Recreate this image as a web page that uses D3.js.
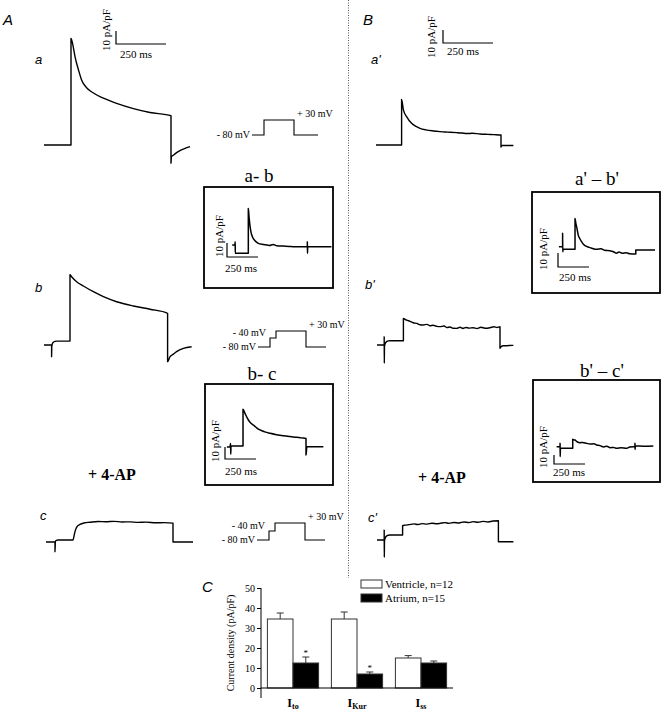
<!DOCTYPE html>
<html>
<head>
<meta charset="utf-8">
<script src="https://cdn.jsdelivr.net/npm/d3@7"></script>
<style>
  body { margin: 0; background: #fff; }
  svg { display: block; }
  text { font-family: "Liberation Serif", "Times New Roman", serif; fill: #000; }
  .lbl { font-family: "Liberation Sans", Arial, sans-serif; font-style: italic; }
</style>
</head>
<body>
<svg id="fig" width="662" height="711"></svg>
<script>
// current traces, [time (ms), current (pA/pF)]
const traceA = [[0,0],[135,0],[135,82],[143,78],[155,68],[172,58],[188,50],[213,44],[247,40],[297,36],[363,32],[447,28],[530,25],[635,22.5],[635,-14],[637,-9],[650,-7.5],[663,-5.9],[680,-4.3],[697,-3.1],[730,-1.3]];
const traceB = [[0,0],[38,0],[38,-9],[39,-1],[42,1],[47,2.2],[55,2.8],[65,3],[130,3],[130,54],[138,52.5],[163,48.7],[197,45.4],[247,41],[297,37.2],[363,33.3],[447,30],[530,27.5],[618,24.4],[618,-12.8],[630,-9],[647,-7],[663,-5.1],[697,-2.6],[738,-1.3]];
const traceC = [[10,0],[55,0],[55,-7.5],[57,0.5],[62,1.3],[70,1.5],[145,1.5],[148,3],[152,6],[158,9.5],[166,12],[180,13.5],[200,14.6],[230,15.2],[270,15.8],[310,15.6],[350,15.9],[390,15.4],[430,15.5],[470,15.1],[510,15.3],[560,14.8],[600,14.9],[645,14.5],[645,0],[745,0]];
const traceA2 = [[0,0],[128,0],[128,35],[137,27],[153,21.8],[178,16.7],[200,14.3],[220,12.8],[250,11.6],[287,10.8],[320,10.3],[345,10.0],[370,9.8],[403,9.5],[430,9.2],[455,8.8],[480,9.0],[520,8.5],[560,8.2],[590,8.0],[625,7.7],[625,-1.5],[628,-0.4],[687,-0.4]];
const traceB2 = [[0,0],[36,0],[36,6.4],[36.5,-14],[37.5,-1],[42,1.5],[48,2.6],[57,3.2],[65,3.3],[132,3.3],[132,20.5],[140,19.8],[148,19.2],[165,18.2],[181,17.1],[200,16.6],[215,15.6],[231,15.4],[250,15.9],[265,14.8],[280,15.2],[300,14.3],[315,14.1],[335,14.6],[350,13.4],[365,13.9],[380,12.9],[398,12.8],[415,13.6],[430,12.7],[445,13.5],[460,13.0],[481,13.3],[500,12.6],[520,13.6],[540,12.9],[565,13.3],[585,14.0],[600,13.5],[615,14.1],[615,-2.5],[622,-1],[632,-0.6],[682,-0.3]];
const traceC2 = [[0,0],[36,0],[36,7.7],[36.5,-13.3],[37.5,-1],[42,1.8],[48,3.1],[57,3.7],[65,3.8],[128,3.8],[128,11],[140,11.4],[160,11.8],[185,12.4],[205,11.9],[225,12.6],[250,12.2],[275,12.9],[300,12.5],[315,12.8],[340,13.4],[360,12.8],[385,13.5],[410,13.1],[435,13.9],[460,13.4],[481,14.1],[505,13.6],[530,14.3],[555,13.9],[580,14.6],[607,14.8],[607,-1.3],[682,-1.3]];

// difference currents shown in the boxes
const diffAB = [[0,0],[22,0],[24,2.4],[25,-5.9],[30,-5.9],[130,-5.9],[130,26],[136,20],[143,14],[152,9],[165,5.5],[184,3],[210,1.2],[250,0.3],[300,-0.3],[330,0.4],[360,-0.5],[412,-0.8],[460,-1],[500,-1.3],[547,-1.2],[606,-1.2],[606,2.4],[607,-5.9],[609,-1.2],[800,-1.2]];
const diffBC = [[0,0],[25,0],[30,3],[31,-6],[33,0.5],[40,0.8],[130,0.8],[130,31.4],[146,28],[160,25],[173,22.5],[190,20.3],[213,18.3],[240,16],[267,14.2],[305,12.6],[348,11.4],[400,10.3],[455,9.4],[510,8.7],[563,8.1],[600,7.6],[638,7.2],[638,-6.7],[645,0.3],[778,0.3]];
const diffAB2 = [[0,0],[30,0],[30,9.6],[31,-3.6],[34,-1.9],[130,-1.9],[130,20.2],[136,17],[143,14.3],[156,8.3],[170,5.5],[183,3.6],[200,1.5],[223,0.2],[260,-0.9],[304,-1.9],[340,-1.5],[370,-2.6],[411,-2.9],[440,-3.6],[464,-4.7],[485,-3.8],[510,-4.6],[544,-4.3],[570,-5],[620,-5.2],[620,-2.4],[775,-2.4]];
const diffBC2 = [[0,0],[28,0],[28,3.7],[29,-11],[31,-1.8],[130,-1.8],[130,8.2],[139,7.6],[148,7.4],[165,5.5],[188,4.4],[210,4.8],[243,3.7],[270,2.9],[300,3.3],[323,1.9],[350,1.2],[380,-0.2],[405,0.6],[431,-1.1],[460,-0.8],[484,-1.8],[520,-1.2],[565,-1.8],[590,-0.4],[619,0],[632,0],[632,3.7],[633,-3],[635,0.8],[700,0.6],[780,0.8]];

// voltage protocols, [time (ms), mV]
const protocolStep = [[0,-80],[200,-80],[200,30],[700,30],[700,-80],[1100,-80]];
const protocolPre = [[0,-80],[200,-80],[200,-40],[300,-40],[300,30],[800,30],[800,-80],[1133,-80]];

// bar chart (panel C)
const currentNames = ['to', 'Kur', 'ss'];
const ventricleMean = [34.5, 34.5, 15];
const ventricleSem = [3, 3.5, 1.2];
const atriumMean = [12.5, 7, 12.5];
const atriumSem = [3, 1, 1];
const starred = [true, true, false];
const yTicks = [0, 10, 20, 30, 40, 50];

const svg = d3.select('#fig');

// scales for one trace: x0/y0 where t=0 and I=0 sit, kx px per ms, ky px per pA/pF
function traceScales(c) {
    const x = d3.scaleLinear().domain([0, 1000]).range([c.x0, c.x0 + 1000 * c.kx]);
    const y = d3.scaleLinear().domain([0, 10]).range([c.y0, c.y0 - 10 * c.ky]);
    return { x, y };
}

function drawTrace(data, c) {
    const { x, y } = traceScales(c);
    svg.append('path')
        .datum(data)
        .attr('d', d3.line().x(d => x(d[0])).y(d => y(d[1])).curve(d3.curveMonotoneX))
        .attr('fill', 'none')
        .attr('stroke', '#000')
        .attr('stroke-width', c.w || 1.4)
        .attr('stroke-linejoin', 'round');
}

// 10 pA/pF by 250 ms calibration bar
function drawScaleBar(c) {
    const { x, y } = traceScales(c);
    svg.append('path')
        .attr('d', `M${x(0)},${y(10)}V${y(0)}H${x(250)}`)
        .attr('fill', 'none').attr('stroke', '#000').attr('stroke-width', 1.2);
    svg.append('text')
        .attr('transform', `translate(${x(0) + c.tx},${c.ty}) rotate(-90)`)
        .attr('text-anchor', 'middle')
        .attr('font-size', 11)
        .text('10 pA/pF');
    svg.append('text')
        .attr('x', x(0) + c.mx).attr('y', y(0) + c.my)
        .attr('font-size', 11)
        .text('250 ms');
}

function drawProtocol(data, c) {
    const x = d3.scaleLinear().domain([0, 1000]).range([c.x0, c.x0 + 1000 * 0.06]);
    const y = d3.scaleLinear().domain(c.levels).range(c.ys);
    svg.append('path')
        .datum(data)
        .attr('d', d3.line().x(d => x(d[0])).y(d => y(d[1])))
        .attr('fill', 'none').attr('stroke', '#000').attr('stroke-width', 1.1);
    const t = (tx, ty, s, anchor) => svg.append('text')
        .attr('x', tx).attr('y', ty).attr('font-size', 10)
        .attr('text-anchor', anchor).text(s);
    t(x(0) - 2, y(-80) + 3, '- 80 mV', 'end');
    const up = data.find(d => d[1] === 30);
    const down = data.filter(d => d[1] === 30)[1];
    t(x(down[0]) + 3, y(30) - 3, '+ 30 mV', 'start');
    if (c.levels.includes(-40)) t(x(200) - 4, y(-40) - 2, '- 40 mV', 'end');
}

function label(x, y, s, size) {
    svg.append('text').attr('class', 'lbl').attr('x', x).attr('y', y)
        .attr('font-size', size).text(s);
}

function boxTitle(x, y, s) {
    svg.append('text').attr('x', x).attr('y', y).attr('text-anchor', 'middle')
        .attr('font-size', 19).text(s);
}

function box(x, y, w, h) {
    svg.append('rect').attr('x', x).attr('y', y).attr('width', w).attr('height', h)
        .attr('fill', 'none').attr('stroke', '#000').attr('stroke-width', 1.8);
}

// divider between A and B
svg.append('line')
    .attr('x1', 348.5).attr('x2', 348.5).attr('y1', 0).attr('y2', 578)
    .attr('stroke', '#555').attr('stroke-width', 1).attr('stroke-dasharray', '1,1.5');

// ---- panel A
label(3, 25, 'A', 15);
label(35, 64, 'a', 13);
label(35, 292, 'b', 13);
label(40, 520, 'c', 13);

const mainA = { kx: 0.2, ky: 1.3 };
drawScaleBar({ ...mainA, x0: 116, y0: 44, tx: -6, ty: 30, mx: 4, my: 14 });
drawTrace(traceA, { ...mainA, x0: 44, y0: 145 });
drawTrace(traceB, { ...mainA, x0: 44, y0: 345 });
drawTrace(traceC, { ...mainA, x0: 44, y0: 542 });

drawProtocol(protocolStep, { x0: 252, levels: [-80, 30], ys: [135, 120] });
drawProtocol(protocolPre, { x0: 258, levels: [-80, -40, 30], ys: [347, 338, 331] });
drawProtocol(protocolPre, { x0: 257, levels: [-80, -40, 30], ys: [540, 531, 523] });

boxTitle(259, 182, 'a- b');
box(204, 187, 129, 101);
const boxK = { kx: 0.124 };
drawScaleBar({ ...boxK, ky: 1.4, x0: 227, y0: 257, tx: -4, ty: 236, mx: -2, my: 15 });
drawTrace(diffAB, { ...boxK, ky: 1.4, x0: 232.2, y0: 245, w: 1.5 });

boxTitle(262, 380, 'b- c');
box(205, 384, 128, 101);
drawScaleBar({ ...boxK, ky: 1.2, x0: 225, y0: 459, tx: -6, ty: 441, mx: 0, my: 16 });
drawTrace(diffBC, { ...boxK, ky: 1.2, x0: 226.9, y0: 447, w: 1.5 });

svg.append('text').attr('x', 112).attr('y', 480).attr('text-anchor', 'middle')
    .attr('font-size', 16).attr('font-weight', 'bold').text('+ 4-AP');

// ---- panel B
label(363, 25, 'B', 15);
label(371, 64, "a'", 13);
label(365, 289, "b'", 13);
label(368, 522, "c'", 13);

drawScaleBar({ ...mainA, x0: 443, y0: 43, tx: -8, ty: 37, mx: 4, my: 12 });
drawTrace(traceA2, { ...mainA, x0: 376, y0: 145 });
drawTrace(traceB2, { ...mainA, x0: 377, y0: 345 });
drawTrace(traceC2, { ...mainA, x0: 377, y0: 540 });

boxTitle(597, 185, "a' \u2013 b'");
box(532, 192, 128, 101);
drawScaleBar({ ...boxK, ky: 1.4, x0: 558, y0: 267, tx: -11, ty: 249, mx: 1, my: 14 });
drawTrace(diffAB2, { ...boxK, ky: 1.4, x0: 558.9, y0: 246.7, w: 1.5 });

boxTitle(602, 377, "b' \u2013 c'");
box(533, 380, 127, 102);
drawScaleBar({ ...boxK, ky: 0.9, x0: 554, y0: 464, tx: -7, ty: 447, mx: -1, my: 12 });
drawTrace(diffBC2, { ...boxK, ky: 0.9, x0: 556.6, y0: 446.7, w: 1.5 });

svg.append('text').attr('x', 442).attr('y', 483).attr('text-anchor', 'middle')
    .attr('font-size', 16).attr('font-weight', 'bold').text('+ 4-AP');

// ---- panel C: bar chart
label(202, 592, 'C', 15);

const y = d3.scaleLinear().domain([0, 50]).range([688, 588]);
const xg = d3.scaleBand().domain(currentNames).range([261, 453]).paddingInner(0.2).paddingOuter(0.1);
const xs = d3.scaleBand().domain(['v', 'a']).range([0, xg.bandwidth()]);

const yAxis = svg.append('g').attr('transform', 'translate(261,0)')
    .call(d3.axisLeft(y).tickValues(yTicks).tickSize(4).tickPadding(2));
yAxis.select('.domain').remove();
yAxis.selectAll('text').attr('font-size', 10).attr('font-family', null);
yAxis.selectAll('line').attr('stroke', '#000');
svg.append('line').attr('x1', 261).attr('x2', 261).attr('y1', y(50)).attr('y2', y(-5))
    .attr('stroke', '#000').attr('stroke-width', 1);

svg.append('text')
    .attr('transform', `translate(234,${y(22.5)}) rotate(-90)`)
    .attr('text-anchor', 'middle').attr('font-size', 10)
    .text('Current density (pA/pF)');

const groups = currentNames.map((name, i) => ({
    name,
    bars: [
        { key: 'v', mean: ventricleMean[i], sem: ventricleSem[i], fill: '#fff' },
        { key: 'a', mean: atriumMean[i], sem: atriumSem[i], fill: '#000', star: starred[i] }
    ]
}));

groups.forEach(g => {
    const gx = xg(g.name);
    g.bars.forEach(b => {
        const bx = gx + xs(b.key);
        const cx = bx + xs.bandwidth() / 2;
        // error bar above
        svg.append('path')
            .attr('d', `M${cx},${y(b.mean)}V${y(b.mean + b.sem)}M${cx - 3.5},${y(b.mean + b.sem)}H${cx + 3.5}`)
            .attr('stroke', '#333').attr('stroke-width', 1).attr('fill', 'none');
        svg.append('rect')
            .attr('x', bx).attr('y', y(b.mean))
            .attr('width', xs.bandwidth()).attr('height', y(0) - y(b.mean))
            .attr('fill', b.fill).attr('stroke', '#333').attr('stroke-width', 1);
        if (b.star) {
            svg.append('text').attr('x', cx).attr('y', y(b.mean + b.sem) - 1)
                .attr('text-anchor', 'middle').attr('font-size', 9).text('*');
        }
    });
    const t = svg.append('text')
        .attr('x', gx + xg.bandwidth() / 2).attr('y', 707)
        .attr('text-anchor', 'middle').attr('font-size', 12).attr('font-weight', 'bold');
    t.append('tspan').text('I');
    t.append('tspan').attr('font-size', 8).attr('dy', 2).text(g.name);
});

svg.append('line').attr('x1', 261).attr('x2', 453).attr('y1', y(0)).attr('y2', y(0))
    .attr('stroke', '#000').attr('stroke-width', 1);

// legend
const legend = [
    { text: 'Ventricle, n=12', fill: '#fff', y: 580 },
    { text: 'Atrium, n=15', fill: '#000', y: 594 }
];
legend.forEach(d => {
    svg.append('rect').attr('x', 361).attr('y', d.y).attr('width', 21).attr('height', 8)
        .attr('fill', d.fill).attr('stroke', '#333').attr('stroke-width', 1);
    svg.append('text').attr('x', 385).attr('y', d.y + 8).attr('font-size', 11).text(d.text);
});
</script>
</body>
</html>
